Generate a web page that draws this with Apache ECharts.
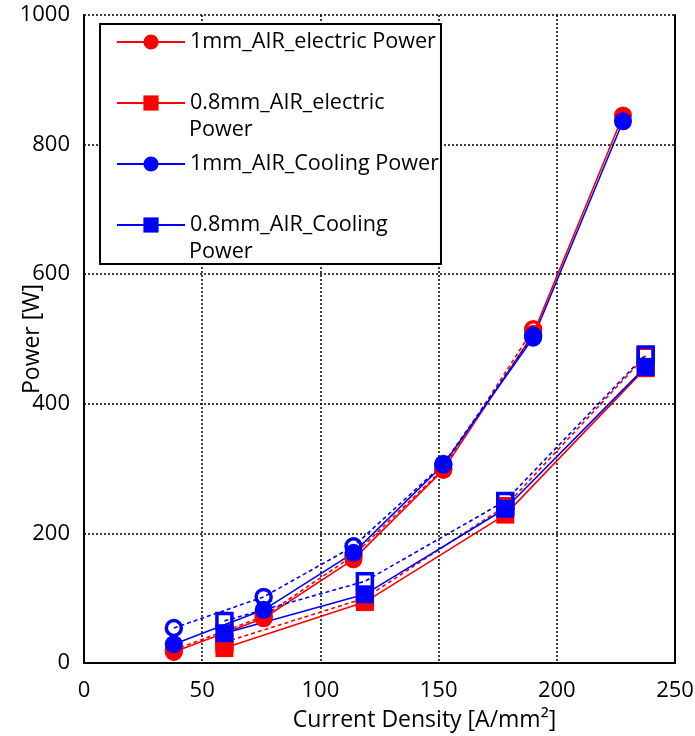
<!DOCTYPE html>
<html>
<head>
<meta charset="utf-8">
<script src="https://cdn.jsdelivr.net/npm/echarts@6/dist/echarts.min.js"></script>
<style>html,body{margin:0;padding:0;background:#fff;}#chart{width:695px;height:736px;}</style>
</head>
<body>
<div id="chart"></div>
<script>
// Current density values [A/mm²]
const circleX = [38, 76, 114, 152, 190, 228];
const squareX = [59.4, 118.8, 178.2, 237.6];
// Power values [W]
const elec1mm = [17, 69, 160, 298, 508, 845];
const cool1mm = [29, 82, 170, 306, 502, 836];
const elec08mm = [23, 94, 229, 455];
const cool08mm = [46, 106, 238, 457];
const elec1mmOpen = [20, 72, 166, 300, 515];
const cool1mmOpen = [54, 102, 180, 307, 505];
const elec08mmOpen = [32, 100, 242, 474];
const cool08mmOpen = [65, 126, 250, 476];
const xTicks = [0, 50, 100, 150, 200, 250];
const yTicks = [0, 200, 400, 600, 800, 1000];
const names = ['1mm_AIR_electric Power', '0.8mm_AIR_electric Power', '1mm_AIR_Cooling Power', '0.8mm_AIR_Cooling Power'];

const FONT = 'Open Sans';
const RED = '#FF0000', BLUE = '#0000FF';
function pairs(xs, ys) { return ys.map((y, i) => [xs[i], y]); }

function solid(name, xs, ys, color, symbol) {
  return { name, type: 'line', data: pairs(xs, ys), symbol, symbolSize: 18,
    lineStyle: { color, width: 1.6 }, itemStyle: { color }, emphasis: { disabled: true }, animation: false };
}
function open(xs, ys, color, symbol) {
  return { name: '_open', type: 'line', data: pairs(xs, ys), symbol, symbolSize: 15,
    lineStyle: { color, width: 1.6, type: [4, 3] },
    itemStyle: { color: 'rgba(0,0,0,0)', borderColor: color, borderWidth: 3.5 },
    emphasis: { disabled: true }, animation: false };
}

const chart = echarts.init(document.getElementById('chart'));
chart.setOption({
  animation: false,
  backgroundColor: '#fff',
  grid: { left: 84, right: 20, top: 15, bottom: 73, containLabel: false, outerBoundsMode: 'none' },
  xAxis: {
    type: 'value', min: xTicks[0], max: xTicks[xTicks.length - 1], interval: 50,
    name: 'Current Density [A/mm²]', nameLocation: 'middle', nameGap: 46, nameMoveOverlap: false,
    nameTextStyle: { fontFamily: FONT, fontSize: 23, color: '#000', padding: [0, 0, 0, 90] },
    axisLine: { show: true, onZero: false, lineStyle: { color: '#000', width: 2 } },
    axisTick: { show: false },
    axisLabel: { margin: 17, fontFamily: FONT, fontSize: 22, color: '#000' },
    splitLine: { show: true, lineStyle: { color: '#000', width: 1.5, type: [2, 2] } }
  },
  yAxis: [{
    type: 'value', min: yTicks[0], max: yTicks[yTicks.length - 1], interval: 200,
    name: 'Power [W]', nameLocation: 'middle', nameGap: 40, nameMoveOverlap: false,
    nameTextStyle: { fontFamily: FONT, fontSize: 23, color: '#000' },
    axisLine: { show: true, lineStyle: { color: '#000', width: 2 } },
    axisTick: { show: false },
    axisLabel: { margin: 14, fontFamily: FONT, fontSize: 22, color: '#000', formatter: v => String(v) },
    splitLine: { show: true, lineStyle: { color: '#000', width: 1.5, type: [2, 2] } }
  }, {
    type: 'value', min: 0, max: 1000, interval: 200, position: 'right',
    axisLine: { show: true, lineStyle: { color: '#000', width: 2 } },
    axisTick: { show: false }, axisLabel: { show: false }, splitLine: { show: false }
  }],
  legend: {
    data: names, orient: 'vertical', left: 100, top: 24,
    itemWidth: 68, itemHeight: 19, itemGap: 33,
    padding: [4, 2, 25, 16],
    borderColor: '#000', borderWidth: 2, backgroundColor: '#fff',
    selectedMode: false,
    formatter: n => n.replace(/^(0\.8mm_AIR_\w+) Power$/, '$1'),
    textStyle: { fontFamily: FONT, fontSize: 21.6, lineHeight: 28, color: '#000' }
  },
  graphic: [
    { type: 'text', x: 189, y: 130, z: 100, style: { text: 'Power', fontFamily: FONT, fontSize: 21.6, verticalAlign: 'middle', fill: '#000' } },
    { type: 'text', x: 189, y: 252, z: 100, style: { text: 'Power', fontFamily: FONT, fontSize: 21.6, verticalAlign: 'middle', fill: '#000' } }
  ],
  series: [
    solid(names[0], circleX, elec1mm, RED, 'circle'),
    solid(names[1], squareX, elec08mm, RED, 'rect'),
    open(circleX, elec1mmOpen, RED, 'circle'),
    open(squareX, elec08mmOpen, RED, 'rect'),
    solid(names[2], circleX, cool1mm, BLUE, 'circle'),
    solid(names[3], squareX, cool08mm, BLUE, 'rect'),
    open(circleX, cool1mmOpen, BLUE, 'circle'),
    open(squareX, cool08mmOpen, BLUE, 'rect')
  ]
});
</script>
</body>
</html>
